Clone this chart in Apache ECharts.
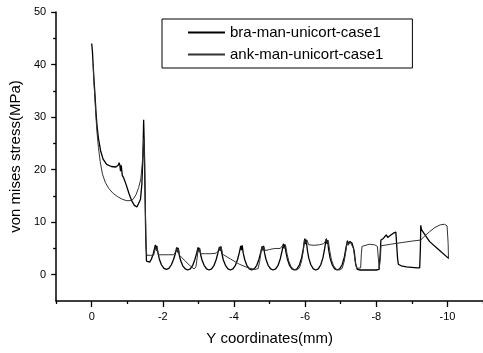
<!DOCTYPE html>
<html><head><meta charset="utf-8">
<script src="https://cdn.jsdelivr.net/npm/echarts@6/dist/echarts.min.js"></script>
<style>html,body{margin:0;padding:0;background:#fff}#c{width:483px;height:353px}</style>
</head><body><div id="c"></div>
<script>
var seriesNames = ['bra-man-unicort-case1', 'ank-man-unicort-case1'];
var xMajorTicks = [0, -2, -4, -6, -8, -10];
var xMinorTicks = [1, -1, -3, -5, -7, -9, -11];
var yMajorTicks = [0, 10, 20, 30, 40, 50];
var yMinorTicks = [5, 15, 25, 35, 45];

var braPoints = [
[0.00,44.0],[-0.02,42.5],[-0.04,40.0],[-0.06,37.5],[-0.09,34.5],[-0.12,31.0],[-0.15,28.3],[-0.19,25.9],[-0.25,23.6],[-0.32,22.0],[-0.42,21.0],[-0.55,20.6],[-0.68,20.5],[-0.75,20.9],[-0.77,21.3],[-0.79,20.9],[-0.81,19.7],[-0.83,20.8],[-0.86,18.9],[-0.9,18.4],[-0.97,17.1],[-1.05,15.4],[-1.13,14.0],[-1.2,13.2],[-1.27,12.9],[-1.32,13.1],[-1.37,14.3],[-1.41,17.2],[-1.44,22.5],[-1.46,29.5],[-1.48,24],[-1.5,15],[-1.52,7],[-1.54,2.6],
[-1.58,2.3],[-1.63,2.4],[-1.68,3.0],[-1.73,4.0],[-1.77,5.1],[-1.79,5.7],[-1.81,4.8],[-1.83,5.5],[-1.86,4.3],[-1.9,3.0],[-1.96,1.9],[-2.03,1.2],[-2.1,1.0],[-2.17,1.2],[-2.24,1.9],[-2.3,2.9],[-2.35,4.0],[-2.39,5.2],[-2.41,4.4],[-2.43,5.1],[-2.46,3.8],[-2.5,2.7],[-2.56,1.7],[-2.63,1.1],[-2.7,0.9],[-2.77,1.1],[-2.84,1.8],[-2.9,2.9],[-2.95,4.1],[-2.99,5.2],[-3.01,4.5],[-3.03,5.1],[-3.06,3.9],[-3.1,2.8],[-3.16,1.8],[-3.23,1.1],[-3.3,0.9],[-3.37,1.1],[-3.44,1.8],[-3.5,2.9],[-3.55,4.2],[-3.59,5.3],[-3.61,4.6],[-3.63,5.4],[-3.66,4.0],[-3.7,2.8],[-3.76,1.8],[-3.83,1.1],[-3.9,0.9],[-3.97,1.1],[-4.04,1.8],[-4.1,2.9],[-4.15,4.2],[-4.19,5.5],[-4.21,4.7],[-4.23,5.6],[-4.26,4.1],[-4.3,2.9],[-4.36,1.8],[-4.43,1.1],[-4.5,0.9],[-4.57,1.1],[-4.64,1.8],[-4.7,2.9],[-4.75,4.2],[-4.79,5.4],[-4.81,4.7],[-4.83,5.5],[-4.86,4.1],[-4.9,2.9],[-4.96,1.8],[-5.03,1.1],[-5.1,0.9],[-5.17,1.1],[-5.24,1.8],[-5.3,3.0],[-5.35,4.5],[-5.39,5.9],[-5.41,5.0],[-5.43,5.8],[-5.46,4.3],[-5.5,3.0],[-5.56,1.8],[-5.63,1.1],[-5.7,0.9],[-5.77,1.1],[-5.84,1.9],[-5.9,3.2],[-5.95,5.0],[-5.99,6.9],[-6.01,5.8],[-6.03,6.7],[-6.06,4.8],[-6.1,3.2],[-6.16,1.9],[-6.23,1.1],[-6.3,0.9],[-6.37,1.1],[-6.44,1.9],[-6.5,3.2],[-6.55,5.0],[-6.59,6.8],[-6.61,5.9],[-6.63,6.6],[-6.66,4.8],[-6.7,3.2],[-6.76,1.9],[-6.83,1.1],[-6.9,0.9],[-6.97,1.1],[-7.04,1.9],[-7.1,3.3],[-7.15,5.2],[-7.19,6.5],[-7.22,5.8],[-7.26,6.3],[-7.32,6.0],[-7.38,4.5],[-7.42,2.0],[-7.47,1.0],[-7.55,0.9],[-7.7,0.9],[-7.85,0.9],[-8.0,0.9],[-8.08,1.0],[-8.11,4.0],[-8.13,6.6],[-8.2,6.9],[-8.28,7.6],[-8.32,7.1],[-8.4,7.5],[-8.48,7.9],[-8.55,8.1],[-8.58,7.8],[-8.6,3.0],[-8.62,2.0],[-8.7,1.7],[-8.85,1.5],[-9.0,1.4],[-9.15,1.3],[-9.22,1.3],[-9.24,5.0],[-9.25,9.4],[-9.27,8.6],[-9.5,6.3],[-9.75,4.8],[-10.0,3.3],[-10.03,3.2]
];

var ankPoints = [
[-0.04,40.2],[-0.06,37.0],[-0.09,33.5],[-0.12,30.0],[-0.15,27.0],[-0.19,24.2],[-0.24,21.5],[-0.3,19.2],[-0.38,17.6],[-0.48,16.4],[-0.6,15.5],[-0.72,14.9],[-0.85,14.4],[-0.97,14.1],[-1.08,14.1],[-1.17,14.4],[-1.25,15.3],[-1.32,16.6],[-1.38,18.2],[-1.42,21],[-1.45,24.5],[-1.47,26],[-1.49,21],[-1.51,12],[-1.53,5],[-1.55,3.7],
[-1.65,3.7],[-1.74,3.7],[-1.78,4.8],[-1.8,5.3],[-1.82,4.5],[-1.84,5.0],[-1.87,3.8],[-2.0,3.8],[-2.15,3.8],[-2.3,3.8],[-2.37,4.4],[-2.4,5.0],[-2.42,4.2],[-2.44,4.9],[-2.47,3.7],[-2.6,2.8],[-2.75,1.8],[-2.88,1.1],[-2.93,1.5],[-2.96,3.0],[-2.99,4.8],[-3.01,4.3],[-3.03,5.0],[-3.06,4.0],[-3.2,4.0],[-3.35,4.0],[-3.5,4.1],[-3.57,4.6],[-3.6,5.2],[-3.62,4.5],[-3.64,5.3],[-3.68,3.9],[-3.9,3.0],[-4.15,2.0],[-4.4,1.3],[-4.6,1.0],[-4.68,1.2],[-4.72,2.5],[-4.76,4.2],[-4.79,5.2],[-4.81,4.6],[-4.84,5.3],[-4.88,4.6],[-5.0,4.8],[-5.15,5.0],[-5.3,5.0],[-5.37,5.6],[-5.4,5.9],[-5.42,5.1],[-5.45,5.6],[-5.49,4.0],[-5.54,2.6],[-5.6,1.6],[-5.68,1.0],[-5.76,0.9],[-5.84,1.3],[-5.9,2.6],[-5.95,4.6],[-5.98,6.6],[-6.0,6.9],[-6.02,6.0],[-6.05,6.6],[-6.1,5.7],[-6.25,5.6],[-6.4,5.7],[-6.52,5.9],[-6.57,6.4],[-6.6,6.9],[-6.62,6.1],[-6.65,6.5],[-6.69,4.6],[-6.74,2.8],[-6.8,1.7],[-6.88,1.0],[-6.96,0.9],[-7.04,1.2],[-7.1,2.6],[-7.15,4.7],[-7.18,6.2],[-7.21,5.6],[-7.25,6.4],[-7.3,6.1],[-7.36,5.0],[-7.4,2.8],[-7.45,1.2],[-7.5,1.0],[-7.56,1.3],[-7.58,4.0],[-7.6,5.4],[-7.65,5.7],[-7.8,5.8],[-7.95,5.7],[-8.03,5.4],[-8.06,3.0],[-8.08,1.2],[-8.1,1.0],[-8.12,3.5],[-8.13,5.5],[-8.4,5.8],[-8.7,6.1],[-9.0,6.4],[-9.25,6.6],[-9.35,7.3],[-9.5,8.2],[-9.65,9.0],[-9.8,9.5],[-9.92,9.6],[-9.99,9.3],[-10.02,6.0],[-10.03,3.0]
];

var FONT = 'Liberation Sans, Arial, sans-serif';
var chart = echarts.init(document.getElementById('c'), null, {renderer: 'canvas'});
chart.setOption({
  animation: false,
  backgroundColor: '#fff',
  textStyle: {fontFamily: FONT, color: '#000'},
  grid: {left: 53, right: 0, top: 12, bottom: 52},
  legend: {
    orient: 'vertical', left: 162, top: 19,
    data: seriesNames,
    itemWidth: 37, itemHeight: 16, itemGap: 7,
    padding: [6, 29, 6, 25],
    borderColor: '#000', borderWidth: 1,
    itemStyle: {opacity: 0},
    textStyle: {fontFamily: FONT, fontSize: 15, color: '#000'}
  },
  xAxis: [{
    type: 'value', min: -11, max: 1, inverse: true,
    name: 'Y coordinates(mm)', nameLocation: 'middle', nameGap: 30,
    nameTextStyle: {fontFamily: FONT, fontSize: 15, color: '#000'},
    axisLine: {show: true, onZero: false, lineStyle: {color: '#000', width: 1.5}},
    axisTick: {show: true, inside: false, length: 6, customValues: xMajorTicks, lineStyle: {color: '#000', width: 1.3}},
    axisLabel: {show: true, margin: 10, fontSize: 11, fontFamily: FONT, color: '#000', customValues: xMajorTicks},
    splitLine: {show: false}
  }, {
    type: 'value', min: -11, max: 1, inverse: true, position: 'bottom',
    axisLine: {show: false, onZero: false},
    axisTick: {show: true, inside: false, length: 3, customValues: xMinorTicks, lineStyle: {color: '#000', width: 1.3}},
    axisLabel: {show: false},
    splitLine: {show: false}
  }],
  yAxis: [{
    type: 'value', min: -5, max: 50, position: 'left',
    name: 'von mises stress(MPa)', nameLocation: 'middle', nameGap: 30, nameRotate: 90,
    nameTextStyle: {fontFamily: FONT, fontSize: 15, color: '#000'},
    axisLine: {show: true, onZero: false, lineStyle: {color: '#000', width: 1.5}},
    axisTick: {show: true, inside: false, length: 5, customValues: yMajorTicks, lineStyle: {color: '#000', width: 1.3}},
    axisLabel: {show: true, margin: 10, fontSize: 11, fontFamily: FONT, color: '#000', customValues: yMajorTicks},
    splitLine: {show: false}
  }, {
    type: 'value', min: -5, max: 50, position: 'left',
    axisLine: {show: false, onZero: false},
    axisTick: {show: true, inside: false, length: 3, customValues: yMinorTicks, lineStyle: {color: '#000', width: 1.3}},
    axisLabel: {show: false},
    splitLine: {show: false}
  }],
  series: [{
    name: seriesNames[0], type: 'line', data: braPoints,
    xAxisIndex: 0, yAxisIndex: 0, symbol: 'none',
    lineStyle: {color: '#000', width: 1.3}, itemStyle: {color: '#000'}
  }, {
    name: seriesNames[1], type: 'line', data: ankPoints,
    xAxisIndex: 0, yAxisIndex: 0, symbol: 'none',
    lineStyle: {color: '#333', width: 1.0}, itemStyle: {color: '#333'}
  }]
});
</script>
</body></html>
